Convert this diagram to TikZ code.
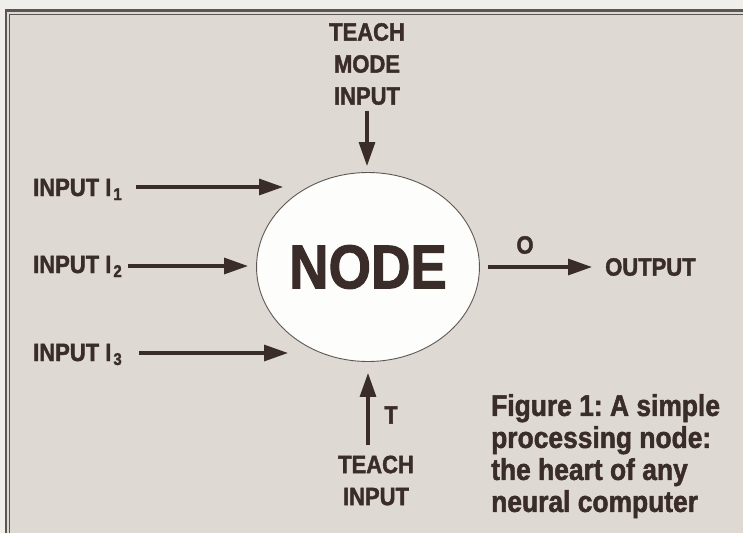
\documentclass[tikz,border=0pt]{standalone}
\usepackage{fontspec}
\newfontfamily\hv{Liberation Sans}[FakeStretch=0.88, BoldFeatures={FakeBold=1.6}]
\usetikzlibrary{arrows.meta,shapes.geometric}
\definecolor{ink}{RGB}{58,44,40}
\definecolor{paper}{RGB}{222,217,210}
\definecolor{outside}{RGB}{240,238,235}
\definecolor{framecol}{RGB}{92,86,83}
\definecolor{nodefill}{RGB}{253,253,251}
\begin{document}
\begin{tikzpicture}[x=1pt,y=-1pt,
  lbl/.style={inner sep=0pt, text=ink, align=center, font=\hv\bfseries\frenchspacing\fontsize{25}{32}\selectfont},
  captext/.style={inner sep=0pt, text=ink, align=left, font=\hv\bfseries\frenchspacing\fontsize{30}{32}\selectfont},
  arr/.style={draw=ink, line width=3.2pt, -{Triangle[length=24pt,width=16pt]}},
  bignode/.style={ellipse, draw=ink!80, line width=0.9pt, fill=nodefill, minimum width=219pt, minimum height=189pt, inner sep=0pt, text=ink, font=\hv\bfseries\fontsize{62}{62}\selectfont}]
\useasboundingbox (0,0) rectangle (743,533);
% background and frame
\fill[outside] (0,0) rectangle (743,533);
\fill[paper] (6,10) rectangle (743,533);
\draw[framecol, line width=2.6pt] (6,533) -- (6,10.5) -- (743,10.5);
\draw[framecol, line width=0.9pt] (9.8,533) -- (9.8,14) -- (743,14);
% central node
\node[bignode] (nd) at (368,267) {NODE};
% labels
\node[lbl] (tmi) at (367,64) {TEACH\\MODE\\INPUT};
\node[lbl, anchor=base west] (i1) at (33,196) {INPUT I\hspace{2pt}\raisebox{-4pt}{\fontsize{17}{17}\selectfont 1}};
\node[lbl, anchor=base west] (i2) at (33,273) {INPUT I\hspace{2pt}\raisebox{-4pt}{\fontsize{17}{17}\selectfont 2}};
\node[lbl, anchor=base west] (i3) at (33,361) {INPUT I\hspace{2pt}\raisebox{-4pt}{\fontsize{17}{17}\selectfont 3}};
\node[lbl, anchor=west] (out) at (605,267) {OUTPUT};
\node[lbl] (o) at (525,245) {O};
\node[lbl] (ti) at (376,480.5) {TEACH\\INPUT};
\node[lbl] (t) at (391,415) {T};
\node[captext, anchor=north west] (capt) at (491,394) {Figure 1: A simple\\processing node:\\the heart of any\\neural computer};
% arrow tips
\coordinate (e1) at (283,187);
\coordinate (e2) at (248,266);
\coordinate (e3) at (288,353);
% connectors
\draw[arr, shorten <=6pt, shorten >=6pt] (tmi.south) -- (tmi.south |- nd.north);
\draw[arr, shorten <=14pt] (i1.east |- e1) -- (e1);
\draw[arr, shorten <=6pt] (i2.east |- e2) -- (e2);
\draw[arr, shorten <=17pt] (i3.east |- e3) -- (e3);
\draw[arr, shorten <=8pt, shorten >=13pt] (nd.east) -- (out.west);
\draw[arr, shorten <=10pt, shorten >=11pt] (nd.south |- ti.north) -- (nd.south);
\end{tikzpicture}
\end{document}
